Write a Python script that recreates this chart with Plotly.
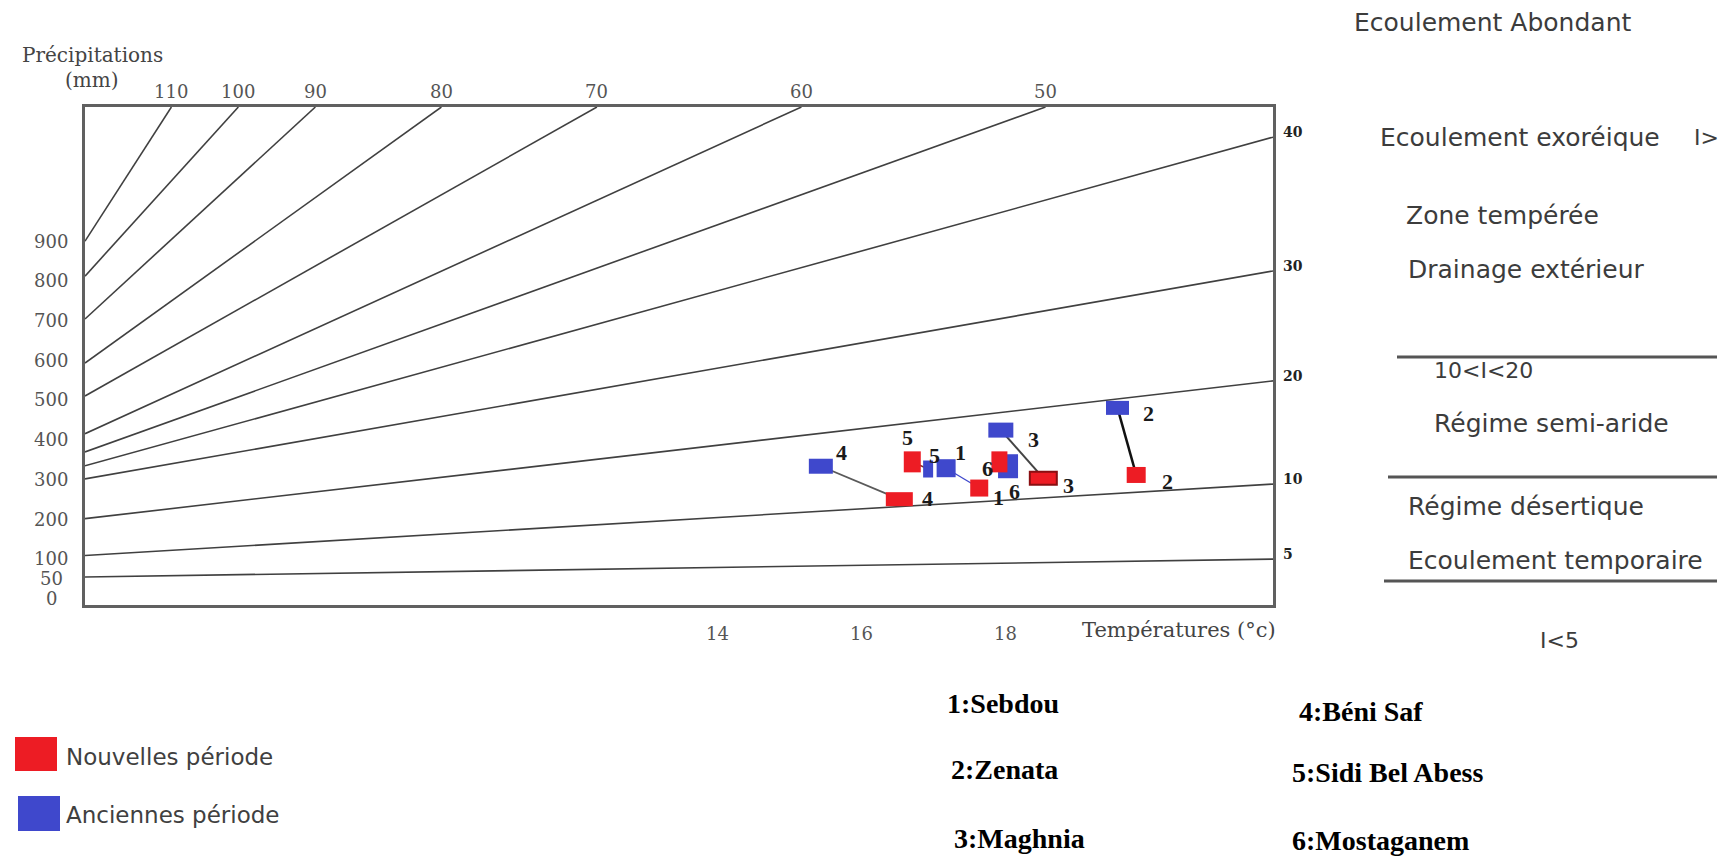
import plotly.graph_objects as go

# ---------------- axis ranges and ticks ----------------
T_MIN, T_MAX = 5.22, 21.72          # temperature (°C) across the frame
P_MIN, P_MAX = -16.6, 1238.0        # precipitation (mm) across the frame

precip_ticks = [0, 50, 100, 200, 300, 400, 500, 600, 700, 800, 900]
temp_ticks = [14, 16, 18]

# ---------------- iso-aridity lines ----------------
# lines that leave the frame through its top edge
top_line_labels = ["110", "100", "90", "80", "70", "60", "50"]
top_line_start_precip = [900, 812, 704, 593, 510, 415, 369]
top_line_end_temp = [6.42, 7.35, 8.42, 10.17, 12.33, 15.17, 18.56]

# lines that leave the frame through its right edge
right_line_labels = ["40", "30", "20", "10", "5"]
right_line_start_precip = [334, 301, 201, 108, 54]
right_line_end_precip = [1162, 825, 548, 288, 99]

# ---------------- stations ----------------
station_ids = ["1", "2", "3", "4", "5", "6"]
station_names = ["Sebdou", "Zenata", "Maghnia", "Béni Saf", "Sidi Bel Abess", "Mostaganem"]

old_temp = [17.18, 19.56, 17.94, 15.44, 16.93, 18.04]
old_precip = [328, 480, 424, 333, 326, 333]

new_temp = [17.64, 19.82, 18.53, 16.53, 16.71, 17.92]
new_precip = [278, 311, 303, 250, 344, 344]

# ---------------- styling ----------------
RED = "#ED1C24"
BLUE = "#3F48CC"
LINE = "#404040"
FRAME = "#606060"
TXT = "#3c3c3c"

old_box = [(19, 18), (23, 14), (25, 15), (24, 15), (10, 17), (20, 24)]
new_box = [(18, 17), (19, 16), (27, 13), (27, 14), (17, 21), (16, 21)]
new_border = [None, None, "#8a0f12", None, None, None]
old_label_shift = [(14, -16), (31, 6), (33, 9), (21, -14), (6, -14), (6, 25)]
new_label_shift = [(19, 9), (31, 7), (25, 7), (28, -1), (-5, -24), (-12, 7)]
link_style = [(BLUE, 1.3), ("#111111", 2.5), ("#444444", 2.0), ("#5a5a5a", 1.8), ("#7a2a2a", 1.5), None]

W, H = 1726, 858
L, R, T, B = 85, 453, 107, 253
PW, PH = W - L - R, H - T - B


def px(x):
    return (x - L) / PW


def py(y):
    return (H - B - y) / PH


fig = go.Figure()

# iso-lines
for p0, t1 in zip(top_line_start_precip, top_line_end_temp):
    fig.add_trace(go.Scatter(x=[T_MIN, t1], y=[p0, P_MAX], mode="lines",
                             line=dict(color=LINE, width=1.6), hoverinfo="skip"))
for p0, p1 in zip(right_line_start_precip, right_line_end_precip):
    fig.add_trace(go.Scatter(x=[T_MIN, T_MAX], y=[p0, p1], mode="lines",
                             line=dict(color=LINE, width=1.6), hoverinfo="skip"))

# links between the two periods of each station
for i in range(len(station_ids)):
    st = link_style[i]
    if st is None:
        continue
    fig.add_trace(go.Scatter(x=[old_temp[i], new_temp[i]], y=[old_precip[i], new_precip[i]],
                             mode="lines", line=dict(color=st[0], width=st[1]), hoverinfo="skip"))

shapes = []
annotations = []


def box(t, p, w, h, color, border=None):
    return dict(type="rect", xref="x", yref="y", xsizemode="pixel", ysizemode="pixel",
                xanchor=t, yanchor=p, x0=-w / 2, x1=w / 2, y0=-h / 2, y1=h / 2,
                fillcolor=color, line=dict(width=2 if border else 0, color=border or color),
                layer="above")


# station boxes: old period first, new period on top
for i in range(len(station_ids)):
    shapes.append(box(old_temp[i], old_precip[i], *old_box[i], BLUE))
for i in range(len(station_ids)):
    shapes.append(box(new_temp[i], new_precip[i], *new_box[i], RED, new_border[i]))

num_font = dict(family="Liberation Serif", size=22, color="#1a1a1a")
for i, sid in enumerate(station_ids):
    for t, p, (dx, dy) in ((old_temp[i], old_precip[i], old_label_shift[i]),
                           (new_temp[i], new_precip[i], new_label_shift[i])):
        annotations.append(dict(x=t, y=p, xref="x", yref="y", text="<b>%s</b>" % sid,
                                xanchor="center", showarrow=False, xshift=dx, yshift=-dy,
                                font=num_font))

axis_font = dict(family="DejaVu Serif", size=18, color="#555555")

# iso-line labels
for lab, t1 in zip(top_line_labels, top_line_end_temp):
    annotations.append(dict(x=t1, y=P_MAX, xref="x", yref="y", text=lab, showarrow=False,
                            xanchor="center", yanchor="middle", yshift=16, font=axis_font))
for lab, p1 in zip(right_line_labels, right_line_end_precip):
    annotations.append(dict(x=T_MAX, y=p1, xref="x", yref="y", text="<b>%s</b>" % lab,
                            showarrow=False, xanchor="left", xshift=8, yshift=5,
                            font=dict(family="DejaVu Serif", size=14, color="#222222")))

# precipitation scale
for v in precip_ticks:
    annotations.append(dict(x=px(51), y=v, xref="paper", yref="y", text=str(v), showarrow=False,
                            xanchor="center", yanchor="middle", font=axis_font))
# temperature scale
for v in temp_ticks:
    annotations.append(dict(x=v, y=py(633), xref="x", yref="paper", text=str(v), showarrow=False,
                            xanchor="center", yanchor="middle", font=axis_font))

serif_title = dict(family="DejaVu Serif", size=20, color="#444444")
annotations += [
    dict(x=px(92), y=py(55), text="Précipitations", xanchor="center", font=serif_title),
    dict(x=px(92), y=py(80), text="(mm)", xanchor="center", font=serif_title),
    dict(x=px(1080), y=py(630), text="Températures (°c)", xanchor="left",
         font=dict(family="DejaVu Serif", size=21, color="#444444")),
]

# climate regime panel
panel_font = dict(family="DejaVu Sans", size=25, color=TXT)
panel_small = dict(family="DejaVu Sans", size=22, color=TXT)
panel_text = [
    ("Ecoulement Abondant", 1352, 22, panel_font),
    ("Ecoulement exoréique", 1378, 137, panel_font),
    ("I>", 1692, 137, panel_small),
    ("Zone tempérée", 1404, 215, panel_font),
    ("Drainage extérieur", 1406, 269, panel_font),
    ("10<I<20", 1432, 370, panel_small),
    ("Régime semi-aride", 1432, 423, panel_font),
    ("Régime désertique", 1406, 506, panel_font),
    ("Ecoulement temporaire", 1406, 560, panel_font),
    ("I<5", 1538, 640, panel_small),
]
for txt, x, y, f in panel_text:
    annotations.append(dict(x=px(x), y=py(y), text=txt.replace("<", "&lt;").replace(">", "&gt;"),
                            xanchor="left", font=f))

for x0, x1, y in ((1397, 1717, 357), (1388, 1717, 477), (1384, 1717, 581)):
    shapes.append(dict(type="line", xref="paper", yref="paper", x0=px(x0), x1=px(x1),
                       y0=py(y), y1=py(y), line=dict(color="#555555", width=3)))

# period key
legend_font = dict(family="DejaVu Sans", size=23, color="#404040")
shapes.append(dict(type="rect", xref="paper", yref="paper", x0=px(15), x1=px(57),
                   y0=py(771), y1=py(737), fillcolor=RED, line=dict(width=0)))
shapes.append(dict(type="rect", xref="paper", yref="paper", x0=px(18), x1=px(60),
                   y0=py(831), y1=py(796), fillcolor=BLUE, line=dict(width=0)))
annotations.append(dict(x=px(64), y=py(757), text="Nouvelles période", xanchor="left", font=legend_font))
annotations.append(dict(x=px(64), y=py(815), text="Anciennes période", xanchor="left", font=legend_font))

# station key
key_font = dict(family="Liberation Serif", size=28, color="#000000")
key_pos = [(945, 703), (949, 769), (952, 838), (1297, 711), (1290, 772), (1290, 840)]
for sid, name, (x, y) in zip(station_ids, station_names, key_pos):
    annotations.append(dict(x=px(x), y=py(y), text="<b>%s:%s</b>" % (sid, name),
                            xanchor="left", font=key_font))

for a in annotations:
    a.setdefault("xref", "paper")
    a.setdefault("yref", "paper")
    a.setdefault("showarrow", False)
    a.setdefault("yanchor", "middle")

axis_common = dict(showgrid=False, zeroline=False, showticklabels=False, ticks="",
                   showline=True, mirror=True, linecolor=FRAME, linewidth=2.5)

fig.update_layout(
    width=W, height=H, autosize=False,
    margin=dict(l=L, r=R, t=T, b=B),
    paper_bgcolor="white", plot_bgcolor="white",
    showlegend=False,
    xaxis=dict(range=[T_MIN, T_MAX], **axis_common),
    yaxis=dict(range=[P_MIN, P_MAX], **axis_common),
    shapes=shapes,
    annotations=annotations,
)

fig.write_html("out.html")
